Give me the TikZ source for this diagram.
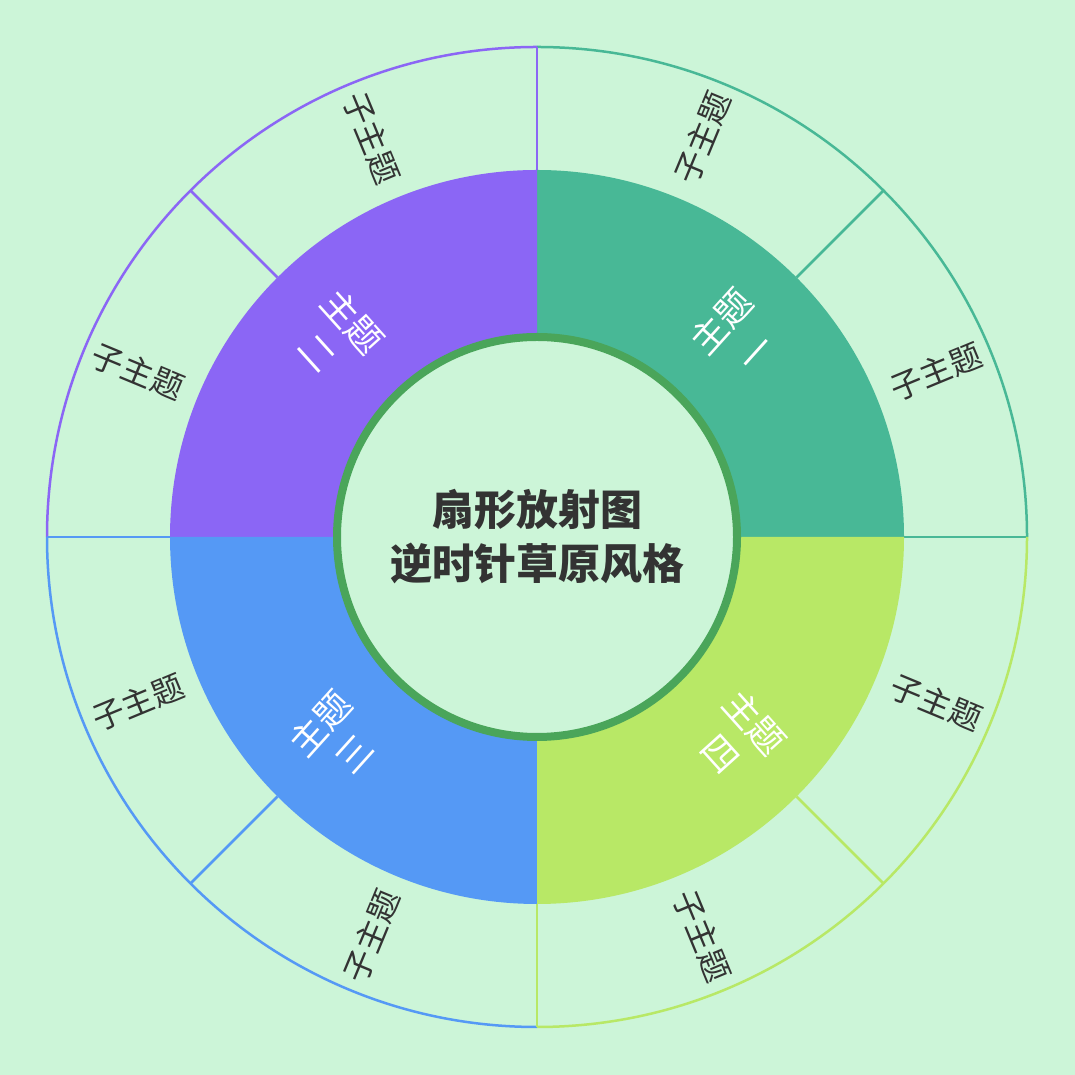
\documentclass[tikz,border=0pt]{standalone}
\usepackage{fontspec}
\usetikzlibrary{calc}
\newfontfamily\cjk{Noto Sans CJK SC}
\definecolor{bg}{HTML}{CCF5D8}
\definecolor{qa}{HTML}{48B896}
\definecolor{qb}{HTML}{8B66F5}
\definecolor{qc}{HTML}{5599F5}
\definecolor{qd}{HTML}{B8E866}
\definecolor{ring}{HTML}{4AA55A}
\begin{document}
\begin{tikzpicture}[x=1pt,y=1pt,
  sub/.style={font=\cjk\fontsize{32}{36}\selectfont,text=black!80},
  mainl/.style={font=\cjk\fontsize{36}{46}\selectfont,text=white,align=center}]
\fill[bg] (0,0) rectangle (1075,1075);
\useasboundingbox (0,0) rectangle (1075,1075);
\coordinate (O) at (537,538);
\foreach \a/\c [count=\i] in {0/qa,90/qb,180/qc,270/qd}{
  \fill[\c] (O) -- ++(\a:367) arc[start angle=\a,end angle=\a+90,radius=367] -- cycle;
  \draw[\c,line width=2.5] ($(O)+(\a:367)$) -- ++(\a:123);
  \draw[\c,line width=2.5] ($(O)+(\a+45:367)$) -- ++(\a+45:123);
  \draw[\c,line width=2.5] ($(O)+(\a:490)$) arc[start angle=\a,end angle=\a+90,radius=490];
}
\foreach \a/\r in {67.5/67.5,22.5/22.5,112.5/-67.5,157.5/-22.5,202.5/22.5,247.5/67.5,292.5/-67.5,337.5/-22.5}{
  \node[sub,rotate=\r] (s\a) at ($(O)+(\a:432)$) {子主题};
}
\node[mainl,rotate=48] (m1) at ($(O)+(45:284)$) {主题\\一};
\node[mainl,rotate=-48] (m2) at ($(O)+(135:284)$) {主题\\二};
\node[mainl,rotate=48] (m3) at ($(O)+(225:284)$) {主题\\三};
\node[mainl,rotate=-48] (m4) at ($(O)+(315:284)$) {主题\\四};
\draw[ring,fill=bg,line width=8] (O) circle[radius=200];
\node[font=\cjk\bfseries\fontsize{42}{54}\selectfont,text=black!80,align=center] (c) at (O) {扇形放射图\\逆时针草原风格};
\end{tikzpicture}
\end{document}
